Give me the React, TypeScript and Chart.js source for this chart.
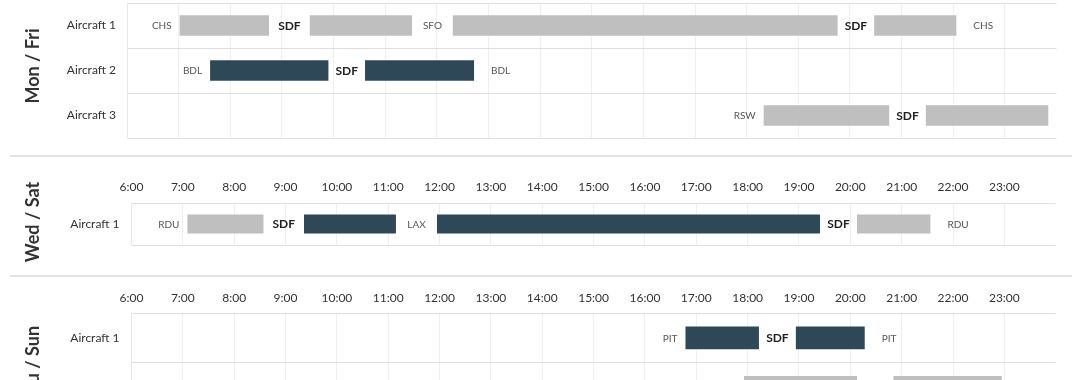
import React, { useEffect, useRef } from 'react';
import { Chart, registerables } from 'chart.js';

Chart.register(...registerables);

const FONT = 'Lato, "Open Sans", "DejaVu Sans", sans-serif';
const HUB = 'SDF';
const LIGHT = '#bfbfbf';
const DARK = '#2f4858';

// Hour axis
const hourTicks = [6, 7, 8, 9, 10, 11, 12, 13, 14, 15, 16, 17, 18, 19, 20, 21, 22, 23];
const hourLabels = ['6:00', '7:00', '8:00', '9:00', '10:00', '11:00', '12:00', '13:00', '14:00', '15:00', '16:00', '17:00', '18:00', '19:00', '20:00', '21:00', '22:00', '23:00'];

// Mon / Fri
const monFriAircraft = ['Aircraft 1', 'Aircraft 2', 'Aircraft 3'];
const monFriDepart = [[7.0, 9.52, 12.29, 20.45], [7.59, 10.59], [18.31, 21.45]];
const monFriArrive = [[8.77, 11.54, 19.78, 22.08], [9.92, 12.74], [20.78, 23.86]];
const monFriAirports = [['CHS', 'SDF', 'SFO', 'SDF', 'CHS'], ['BDL', 'SDF', 'BDL'], ['RSW', 'SDF']];
const monFriKind = [['light', 'light', 'light', 'light'], ['dark', 'dark'], ['light', 'light']];

// Wed / Sat
const wedSatAircraft = ['Aircraft 1'];
const wedSatDepart = [[7.07, 9.34, 11.93, 20.11]];
const wedSatArrive = [[8.59, 11.17, 19.43, 21.58]];
const wedSatAirports = [['RDU', 'SDF', 'LAX', 'SDF', 'RDU']];
const wedSatKind = [['light', 'dark', 'dark', 'light']];

// Thu / Sun
const thuSunAircraft = ['Aircraft 1', 'Aircraft 2'];
const thuSunDepart = [[16.77, 18.92], [17.91, 20.82]];
const thuSunArrive = [[18.24, 20.3], [20.15, 22.97]];
const thuSunAirports = [['PIT', 'SDF', 'PIT'], []];
const thuSunKind = [['dark', 'dark'], ['light', 'light']];

type PanelProps = {
  aircraft: string[];
  depart: number[][];
  arrive: number[][];
  airports: string[][];
  kind: string[][];
  top: number;
  height: number;
  plotLeft: number;
  plotRight: number;
  plotTop: number;
  plotBottom: number;
  tickPad: number;
  labelPad: number;
};

function SchedulePanel(p: PanelProps) {
  const ref = useRef<HTMLCanvasElement>(null);
  useEffect(() => {
    if (!ref.current) return;
    const data: any[] = [];
    const colors: string[] = [];
    p.aircraft.forEach((name, r) => {
      p.depart[r].forEach((d, i) => {
        data.push({ x: [d, p.arrive[r][i]], y: name });
        colors.push(p.kind[r][i] === 'dark' ? DARK : LIGHT);
      });
    });

    const stopLabels = {
      id: 'stopLabels',
      afterDatasetsDraw(chart: any) {
        const { ctx } = chart;
        const xs = chart.scales.x;
        const ys = chart.scales.y;
        ctx.save();
        p.aircraft.forEach((_name, r) => {
          const cy = ys.getPixelForValue(r);
          const legs = p.depart[r].length;
          (p.airports[r] || []).forEach((code, i) => {
            let px: number;
            let align: CanvasTextAlign;
            if (i === 0) {
              px = xs.getPixelForValue(p.depart[r][0]) - 7;
              align = 'right';
            } else if (i >= legs) {
              px = xs.getPixelForValue(p.arrive[r][legs - 1]) + 16;
              align = 'left';
            } else {
              px = (xs.getPixelForValue(p.arrive[r][i - 1]) + xs.getPixelForValue(p.depart[r][i])) / 2;
              align = 'center';
            }
            const hub = code === HUB;
            ctx.font = hub ? `bold 12px ${FONT}` : `10px ${FONT}`;
            ctx.fillStyle = hub ? '#222' : '#555';
            ctx.textAlign = align;
            ctx.textBaseline = 'middle';
            ctx.fillText(code, px, cy + 0.5);
          });
        });
        ctx.restore();
      },
    };

    const chart = new Chart(ref.current, {
      type: 'bar',
      data: {
        labels: p.aircraft,
        datasets: [
          {
            data,
            backgroundColor: colors,
            borderColor: 'rgba(255,255,255,0.55)',
            borderWidth: 1,
            borderSkipped: false,
            barPercentage: 0.5,
            categoryPercentage: 1,
          } as any,
        ],
      },
      options: {
        responsive: false,
        animation: false,
        indexAxis: 'y',
        layout: {
          padding: {
            left: 0,
            top: 0,
            right: 1080 - p.plotRight,
            bottom: p.height - p.plotBottom,
          },
        },
        plugins: {
          legend: { display: false },
          tooltip: { enabled: false },
          title: { display: false },
        },
        scales: {
          x: {
            type: 'linear',
            position: 'top',
            min: 6,
            max: 24,
            afterBuildTicks: (axis: any) => {
              axis.ticks = hourTicks.map((v) => ({ value: v }));
            },
            afterFit: (axis: any) => {
              axis.height = p.plotTop;
              axis.paddingLeft = 0;
              axis.paddingRight = 0;
              axis.paddingTop = 0;
              axis.paddingBottom = 0;
            },
            ticks: {
              callback: (_v: any, i: number) => hourLabels[i] ?? '',
              padding: p.tickPad,
              color: '#333',
              font: { family: FONT, size: 12 },
              maxRotation: 0,
              autoSkip: false,
            },
            grid: { color: '#efefef', drawTicks: false, lineWidth: 1 },
            border: { display: false },
          },
          y: {
            type: 'category',
            offset: true,
            afterFit: (axis: any) => {
              axis.width = p.plotLeft;
              axis.paddingLeft = 0;
              axis.paddingRight = 0;
              axis.paddingTop = 0;
              axis.paddingBottom = 0;
            },
            ticks: {
              padding: p.labelPad,
              color: '#333',
              font: { family: FONT, size: 12 },
            },
            grid: { offset: true, color: '#dedede', drawTicks: false, lineWidth: 1 },
            border: { display: true, color: '#e8e8e8' },
          },
        } as any,
      },
      plugins: [stopLabels],
    });
    return () => chart.destroy();
  }, []);

  return (
    <canvas
      ref={ref}
      width={1080}
      height={p.height}
      style={{ position: 'absolute', left: 0, top: p.top, width: 1080, height: p.height }}
    />
  );
}

function PanelTitle({ text, cy }: { text: string; cy: number }) {
  return (
    <div
      style={{
        position: 'absolute',
        left: 32,
        top: cy,
        transform: 'translate(-50%, -50%) rotate(-90deg)',
        fontFamily: FONT,
        fontWeight: 700,
        fontSize: 18,
        color: '#333',
        whiteSpace: 'nowrap',
        lineHeight: 1,
      }}
    >
      {text}
    </div>
  );
}

function Separator({ y }: { y: number }) {
  return <div style={{ position: 'absolute', left: 10, top: y, width: 1062, height: 2, background: '#e2e2e2' }} />;
}

export default function App() {
  return (
    <div
      style={{
        position: 'absolute',
        left: 0,
        top: 0,
        width: 1080,
        height: 380,
        overflow: 'hidden',
        background: '#fff',
      }}
    >
      <SchedulePanel
        aircraft={monFriAircraft}
        depart={monFriDepart}
        arrive={monFriArrive}
        airports={monFriAirports}
        kind={monFriKind}
        top={-40}
        height={180}
        plotLeft={127}
        plotRight={1056.5}
        plotTop={43}
        plotBottom={178}
        tickPad={8.5}
        labelPad={11}
      />
      <SchedulePanel
        aircraft={wedSatAircraft}
        depart={wedSatDepart}
        arrive={wedSatArrive}
        airports={wedSatAirports}
        kind={wedSatKind}
        top={160}
        height={100}
        plotLeft={131.5}
        plotRight={1055.7}
        plotTop={43}
        plotBottom={85}
        tickPad={8.5}
        labelPad={12}
      />
      <SchedulePanel
        aircraft={thuSunAircraft}
        depart={thuSunDepart}
        arrive={thuSunArrive}
        airports={thuSunAirports}
        kind={thuSunKind}
        top={280}
        height={140}
        plotLeft={131.5}
        plotRight={1055.7}
        plotTop={33}
        plotBottom={132.2}
        tickPad={8}
        labelPad={12}
      />
      <Separator y={155} />
      <Separator y={275} />
      <PanelTitle text="Mon / Fri" cy={66} />
      <PanelTitle text="Wed / Sat" cy={221.5} />
      <PanelTitle text="Thu / Sun" cy={365} />
    </div>
  );
}
